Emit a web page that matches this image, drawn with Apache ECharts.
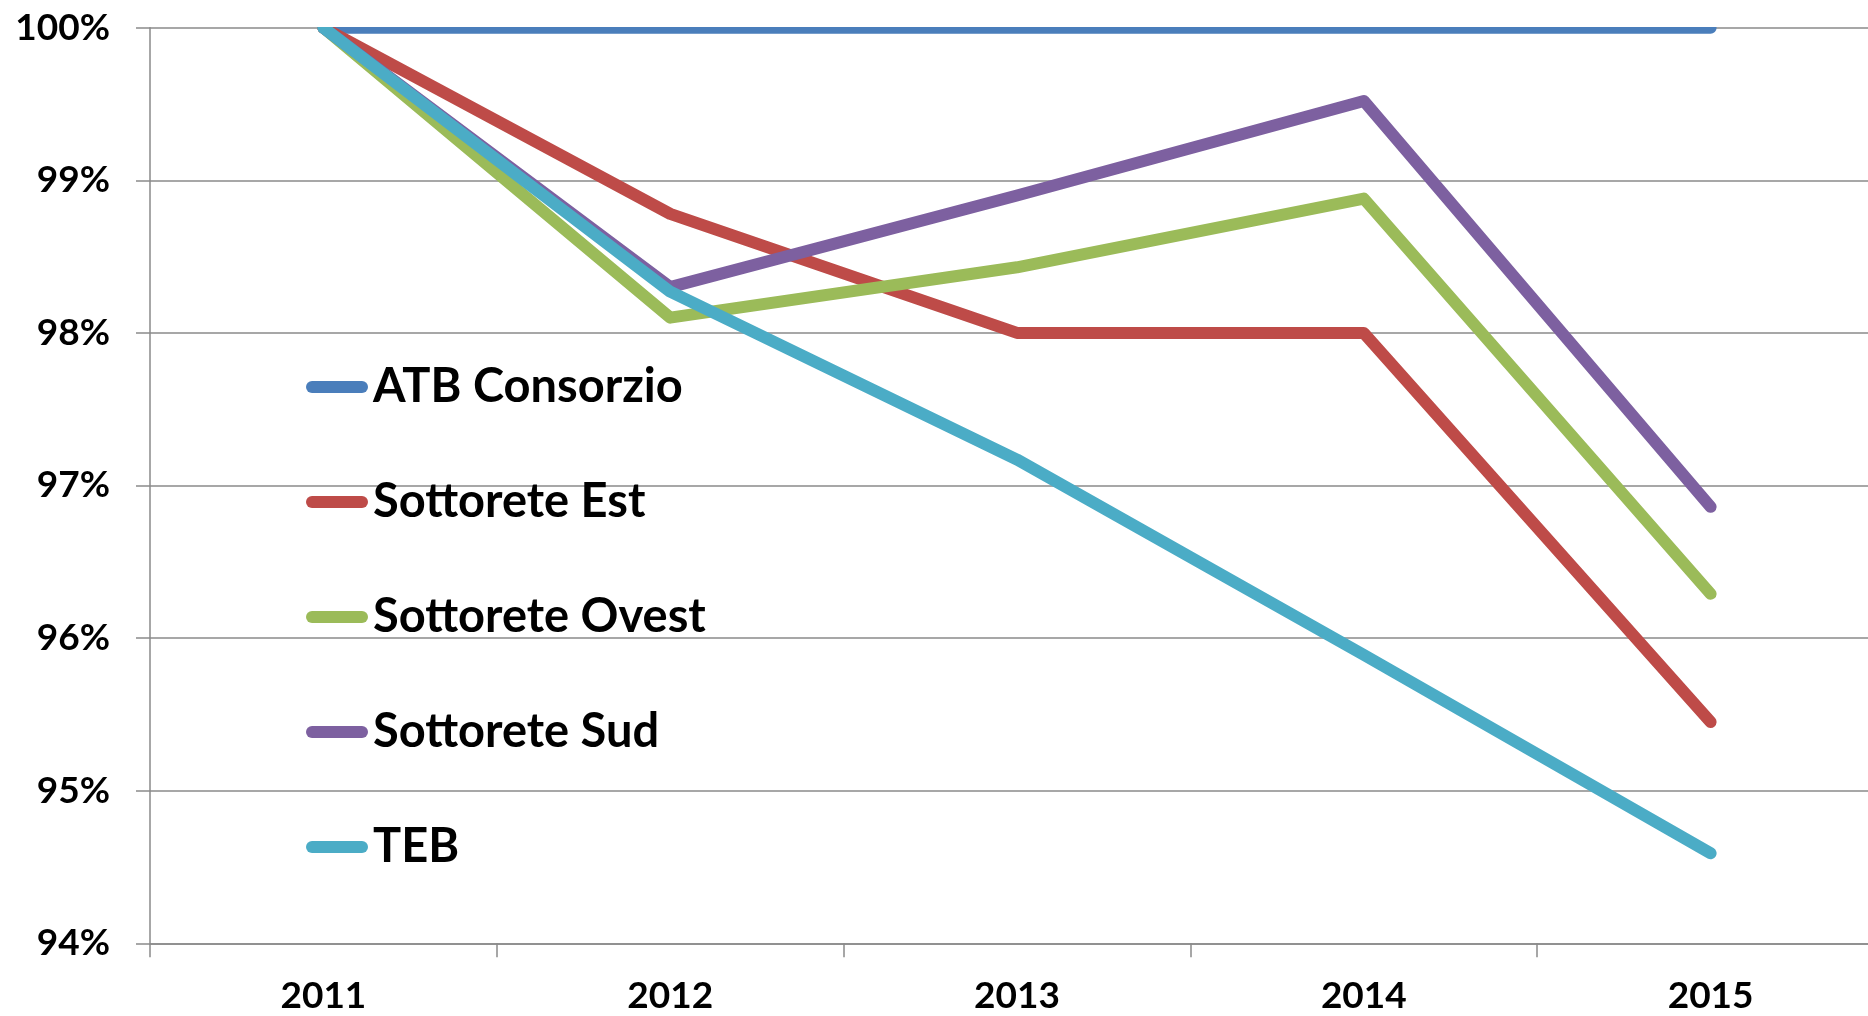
<!DOCTYPE html>
<html>
<head>
<meta charset="utf-8">
<title>Andamento</title>
<script src="https://cdn.jsdelivr.net/npm/echarts@6/dist/echarts.min.js"></script>
<style>
  html, body { margin: 0; padding: 0; background: #fff; }
  #chart { width: 1868px; height: 1016px; }
</style>
</head>
<body>
<div id="chart"></div>
<script>
// anni sull'asse x
const years = ['2011', '2012', '2013', '2014', '2015']
// valori in percentuale
const atbConsorzio = [100, 100, 100, 100, 100]
const sottoreteEst = [100, 98.78, 98.0, 98.0, 95.45]
const sottoreteOvest = [100, 98.1, 98.43, 98.88, 96.29]
const sottoreteSud = [100, 98.3, 98.9, 99.52, 96.86]
const teb = [100, 98.27, 97.17, 95.89, 94.59]

const seriesNames = ['ATB Consorzio', 'Sottorete Est', 'Sottorete Ovest', 'Sottorete Sud', 'TEB']
const seriesData = [atbConsorzio, sottoreteEst, sottoreteOvest, sottoreteSud, teb]
const colors = ['#4A7EBB', '#BE4B48', '#9BBB59', '#7D60A0', '#4BACC6']

const font = 'Lato'
const gridColor = '#8a8a8a'

const chart = echarts.init(document.getElementById('chart'))

const option = {
  animation: false,
  backgroundColor: '#fff',
  color: colors,
  grid: {
    left: 150,
    right: -16, // l'ultima categoria esce dal bordo destro
    top: 27.7,
    bottom: 72.7,
    outerBoundsMode: 'none'
  },
  legend: {
    data: seriesNames,
    orient: 'vertical',
    left: 306,
    top: 362,
    padding: 0,
    itemWidth: 62,
    itemHeight: 12,
    itemGap: 65,
    icon: 'path://M6,0H56A6,6,0,0,1,56,12H6A6,6,0,0,1,6,0Z',
    textStyle: {
      fontFamily: font,
      fontWeight: 'bold',
      fontSize: 47,
      lineHeight: 50,
      color: '#000'
    }
  },
  xAxis: {
    type: 'category',
    data: years,
    boundaryGap: true,
    axisLine: { lineStyle: { color: gridColor, width: 1.5 } },
    axisTick: { show: true, length: 14, lineStyle: { color: gridColor, width: 1.5 } },
    axisLabel: {
      margin: 34,
      fontFamily: font,
      fontWeight: 'bold',
      fontSize: 37,
      color: '#000'
    }
  },
  yAxis: {
    type: 'value',
    min: 94,
    max: 100,
    interval: 1,
    axisLine: { show: true, lineStyle: { color: gridColor, width: 1.5 } },
    axisTick: { show: true, length: 14, lineStyle: { color: gridColor, width: 1.5 } },
    splitLine: { lineStyle: { color: gridColor, width: 1.5 } },
    axisLabel: {
      margin: 40,
      formatter: '{value}%',
      fontFamily: font,
      fontWeight: 'bold',
      fontSize: 37,
      color: '#000'
    }
  },
  // l'area del grafico taglia le linee sul bordo superiore, come nell'originale
  graphic: [
    {
      type: 'rect',
      left: 137,
      top: 0,
      z: 100,
      shape: { width: 1731, height: 27 },
      style: { fill: '#fff' }
    }
  ],
  series: seriesNames.map((name, i) => {
    return {
      name: name,
      type: 'line',
      data: seriesData[i],
      symbol: 'none',
      showSymbol: false,
      lineStyle: {
        width: 12,
        color: colors[i],
        cap: 'round',
        join: 'round'
      },
      itemStyle: { color: colors[i] }
    }
  })
}

chart.setOption(option)
</script>
</body>
</html>
